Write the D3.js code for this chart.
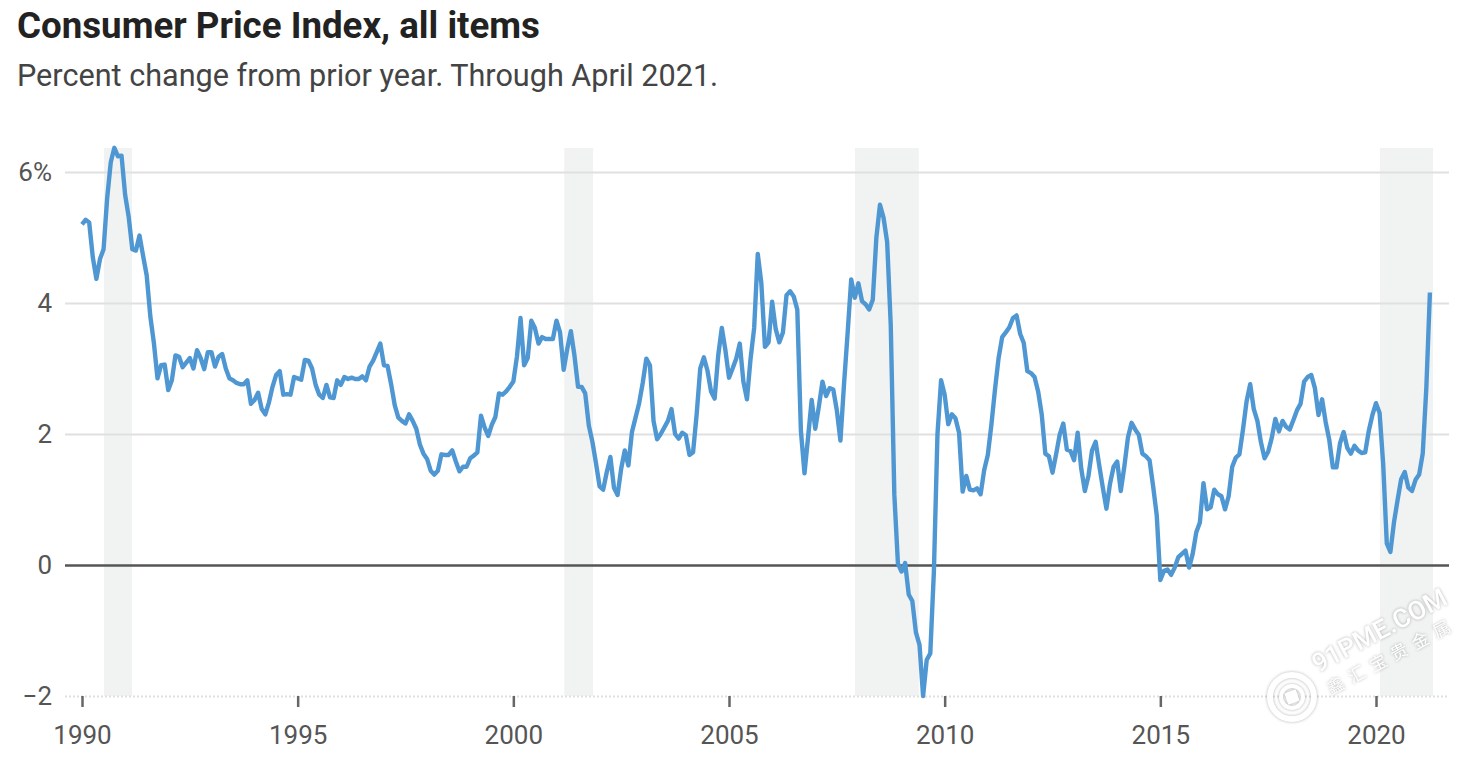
<!DOCTYPE html>
<html lang="en">
<head>
<meta charset="utf-8">
<title>Consumer Price Index, all items</title>
<script src="https://d3js.org/d3.v7.min.js"></script>
<style>
body { margin: 0; background: #fff; }
svg { display: block; }
text { font-family: Roboto, sans-serif; }
.title { font-size: 36.7px; font-weight: 700; fill: #222; }
.subtitle { font-size: 30.6px; fill: #444; }
.tick text { font-size: 26px; fill: #555; }
.band { fill: #f1f3f3; }
.cpi { fill: none; stroke: #4f97d2; stroke-width: 4.4; stroke-linejoin: round; }
.mark { fill: #fff; }
.watermark { filter: drop-shadow(0 0 1.5px rgba(0,0,0,0.3)); }
</style>
</head>
<body>
<div id="container"></div>
<script>
var w = 1468;
var h = 782;

var titleText = "Consumer Price Index, all items";
var subtitleText = "Percent change from prior year. Through April 2021.";

var startYear = 1990;
// monthly, Jan 1990 to Apr 2021
var cpiChange = [
  5.2, 5.27, 5.23, 4.7, 4.37, 4.67, 4.82, 5.6, 6.15, 6.37, 6.24, 6.25,
  5.65, 5.31, 4.82, 4.8, 5.03, 4.72, 4.42, 3.8, 3.39, 2.85, 3.05, 3.06,
  2.67, 2.82, 3.2, 3.18, 3.02, 3.09, 3.16, 3.0, 3.28, 3.16, 2.99, 3.25,
  3.25, 3.03, 3.18, 3.22, 3.0, 2.85, 2.82, 2.78, 2.76, 2.76, 2.82, 2.46,
  2.52, 2.63, 2.38, 2.3, 2.48, 2.72, 2.9, 2.96, 2.6, 2.61, 2.6, 2.87,
  2.85, 2.83, 3.13, 3.12, 3.0, 2.75, 2.6, 2.55, 2.75, 2.56, 2.55, 2.82,
  2.75, 2.87, 2.84, 2.86, 2.84, 2.84, 2.88, 2.82, 3.03, 3.12, 3.25, 3.38,
  3.05, 3.04, 2.76, 2.44, 2.25, 2.2, 2.16, 2.3, 2.2, 2.08, 1.84, 1.7,
  1.62, 1.44, 1.38, 1.44, 1.69, 1.68, 1.68, 1.75, 1.58, 1.43, 1.5, 1.5,
  1.63, 1.67, 1.72, 2.28, 2.1, 1.97, 2.14, 2.26, 2.62, 2.6, 2.65, 2.72,
  2.8, 3.18, 3.77, 3.05, 3.16, 3.73, 3.62, 3.38, 3.48, 3.45, 3.45, 3.45,
  3.73, 3.55, 2.98, 3.3, 3.57, 3.2, 2.72, 2.72, 2.62, 2.13, 1.88, 1.55,
  1.2, 1.15, 1.42, 1.65, 1.18, 1.07, 1.47, 1.75, 1.52, 2.03, 2.25, 2.47,
  2.78, 3.15, 3.05, 2.2, 1.92, 2.0, 2.1, 2.2, 2.38, 2.0, 1.93, 2.02,
  1.98, 1.68, 1.72, 2.3, 3.0, 3.17, 2.97, 2.65, 2.54, 3.2, 3.62, 3.28,
  2.86, 3.0, 3.15, 3.38, 2.8, 2.53, 3.15, 3.62, 4.75, 4.3, 3.33, 3.4,
  4.02, 3.6, 3.4, 3.55, 4.12, 4.18, 4.1, 3.9, 2.05, 1.4, 1.95, 2.52,
  2.08, 2.42, 2.8, 2.58, 2.7, 2.68, 2.36, 1.9, 2.76, 3.54, 4.36, 4.08,
  4.3, 4.03, 3.98, 3.9, 4.05, 5.0, 5.5, 5.3, 4.93, 3.66, 1.07, 0.02,
  -0.1, 0.03, -0.45, -0.55, -1.03, -1.22, -2.0, -1.45, -1.35, -0.1, 2.0, 2.82,
  2.6, 2.15, 2.3, 2.24, 2.02, 1.12, 1.36, 1.15, 1.14, 1.17, 1.08, 1.45,
  1.68, 2.14, 2.68, 3.16, 3.48, 3.55, 3.63, 3.77, 3.81, 3.53, 3.39, 2.96,
  2.93, 2.87, 2.65, 2.3, 1.7, 1.66, 1.41, 1.69, 1.99, 2.16, 1.76, 1.74,
  1.6, 2.02, 1.47, 1.13, 1.36, 1.75, 1.88, 1.52, 1.18, 0.86, 1.24, 1.5,
  1.58, 1.13, 1.51, 1.95, 2.17, 2.07, 1.99, 1.7, 1.66, 1.6, 1.2, 0.76,
  -0.23, -0.09, -0.07, -0.15, -0.04, 0.12, 0.17, 0.22, -0.04, 0.17, 0.5, 0.65,
  1.25, 0.85, 0.88, 1.15, 1.08, 1.05, 0.85, 1.05, 1.5, 1.64, 1.69, 2.07,
  2.5, 2.76, 2.38, 2.2, 1.87, 1.63, 1.73, 1.94, 2.23, 2.04, 2.2, 2.11,
  2.07, 2.21, 2.36, 2.46, 2.8, 2.87, 2.9, 2.7, 2.29, 2.53, 2.18, 1.91,
  1.49, 1.49, 1.86, 2.03, 1.79, 1.7, 1.82, 1.75, 1.71, 1.72, 2.05, 2.29,
  2.47, 2.32, 1.54, 0.33, 0.2, 0.65, 0.99, 1.31, 1.42, 1.18, 1.13, 1.3,
  1.38, 1.7, 2.7, 4.16
];

var recessionStart = [1990.51, 2001.18, 2007.92, 2020.09];
var recessionEnd = [1991.16, 2001.85, 2009.4, 2021.32];

var yTicks = [-2, 0, 2, 4, 6];
var xTicks = [1990, 1995, 2000, 2005, 2010, 2015, 2020];

var points = cpiChange.map(function(v, i) {
  return { year: startYear + i / 12, value: v };
});

var x = d3.scaleLinear().domain([1990, 2020]).range([82, 1376]);
var y = d3.scaleLinear().domain([-2, 6]).range([696, 172]);

var svg = d3.select("div#container").append("svg")
  .attr("width", w)
  .attr("height", h)
  .attr("viewBox", "0 0 " + w + " " + h);

svg.append("text").attr("class", "title").attr("x", 17).attr("y", 38).text(titleText);
svg.append("text").attr("class", "subtitle").attr("x", 17).attr("y", 86).text(subtitleText);

// recession bands
svg.selectAll("rect.band")
  .data(recessionStart)
  .enter()
  .append("rect")
  .attr("class", "band")
  .attr("x", function(d) { return x(d); })
  .attr("y", 148)
  .attr("width", function(d, i) { return x(recessionEnd[i]) - x(d); })
  .attr("height", 696 - 148);

// y axis with full width grid lines
var yAxis = svg.append("g")
  .attr("transform", "translate(65,0)")
  .call(d3.axisLeft(y)
    .tickValues(yTicks)
    .tickSize(-1384)
    .tickPadding(13)
    .tickFormat(function(d) { return d == 6 ? "6%" : (d < 0 ? "\u2212" + (-d) : d); }));
yAxis.select(".domain").remove();
yAxis.selectAll(".tick line")
  .attr("stroke", function(d) { return d == 0 ? "#555" : "#e0e0e0"; })
  .attr("stroke-width", function(d) { return d == 0 ? 2.5 : 2; })
  .attr("stroke-dasharray", function(d) { return d == -2 ? "2,2" : null; });

// x axis
var xAxis = svg.append("g")
  .attr("transform", "translate(0,696)")
  .call(d3.axisBottom(x)
    .tickValues(xTicks)
    .tickSize(11)
    .tickPadding(19)
    .tickFormat(d3.format("d")));
xAxis.select(".domain").remove();
xAxis.selectAll(".tick line").attr("stroke", "#666").attr("stroke-width", 2.5);

// cpi line
var line = d3.line()
  .x(function(d) { return x(d.year); })
  .y(function(d) { return y(d.value); });

svg.append("path")
  .datum(points)
  .attr("class", "cpi")
  .attr("d", line);

// watermark, lower right
var mark = svg.append("g").attr("class", "watermark");
var logo = mark.append("g").attr("transform", "translate(1292,697)");
logo.append("circle").attr("r", 22).attr("fill", "none").attr("stroke", "#fff").attr("stroke-width", 6);
logo.append("circle").attr("r", 11).attr("fill", "none").attr("stroke", "#fff").attr("stroke-width", 4);
logo.append("rect").attr("x", -6).attr("y", -6).attr("width", 12).attr("height", 12).attr("class", "mark")
  .attr("transform", "rotate(-20)");
mark.append("text")
  .attr("class", "mark")
  .attr("transform", "translate(1318,673) rotate(-28)")
  .style("font-size", "26px")
  .style("font-weight", 500)
  .text("91PME.COM");
mark.append("text")
  .attr("class", "mark")
  .attr("transform", "translate(1331,695) rotate(-28)")
  .style("font-size", "17px")
  .style("font-family", "'Noto Sans CJK SC'")
  .style("letter-spacing", "7px")
  .text("鑫汇宝贵金属");
</script>
</body>
</html>
